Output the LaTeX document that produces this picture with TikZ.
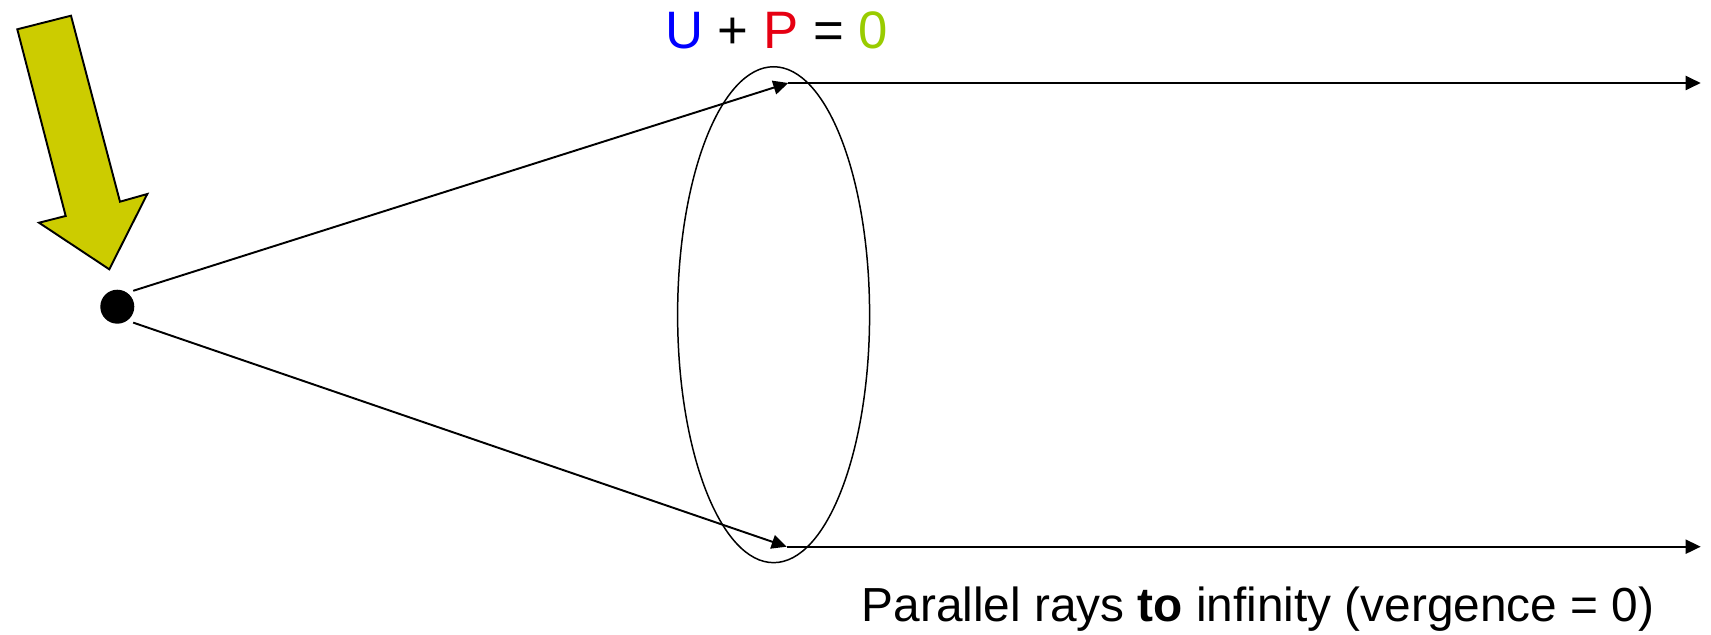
\documentclass[tikz,border=0pt]{standalone}
\usepackage{fontspec}
\setmainfont{Liberation Sans}
\usetikzlibrary{arrows.meta}
\definecolor{arrowfill}{RGB}{204,204,0}
\definecolor{ublue}{RGB}{0,0,255}
\definecolor{pred}{RGB}{230,0,18}
\definecolor{zgreen}{RGB}{153,204,0}
\begin{document}
\begin{tikzpicture}[x=0.02cm,y=-0.02cm,
  ray/.style={line width=1.1pt,-{Triangle[length=0.3cm,width=0.28cm]}}]
  \useasboundingbox (0,0) rectangle (1711,635);
  % Big yellow arrow pointing at the object
  \draw[fill=arrowfill,line width=1.1pt,line join=miter] (17.3,29.3) -- (71,15.7) -- (120,201.7) -- (147.3,194)
    -- (109.3,269.3) -- (39,222.7) -- (65.7,216) -- cycle;
  % Object point
  \node[circle,fill=black,minimum size=0.68cm,inner sep=0pt,outer sep=0.11cm] (dot) at (117.3,306.7) {};
  % Lens
  \draw[line width=0.85pt] (773.6,314.7) ellipse [x radius=1.92cm,y radius=4.96cm];
  % Rays in, then parallel out
  \coordinate (topin) at (788.3,83);
  \coordinate (botin) at (786.7,546.7);
  \coordinate (topout) at (1700.7,83);
  \coordinate (botout) at (1700.7,546.7);
  \draw[ray] (dot.45) -- (topin);
  \draw[ray] (dot.-45) -- (botin);
  \draw[ray] (topin) -- (topout);
  \draw[ray] (botin) -- (botout);
  % Labels
  \node[font=\fontsize{30}{34}\selectfont,anchor=base] (eqn) at (776.5,48.5)
    {\textcolor{ublue}{U} + \textcolor{pred}{P} = \textcolor{zgreen}{0}};
  \node[font=\fontsize{27.2}{30}\selectfont,anchor=base west] (note) at (855.5,621.5)
    {Parallel rays \textbf{to} infinity (vergence = 0)};
\end{tikzpicture}
\end{document}
